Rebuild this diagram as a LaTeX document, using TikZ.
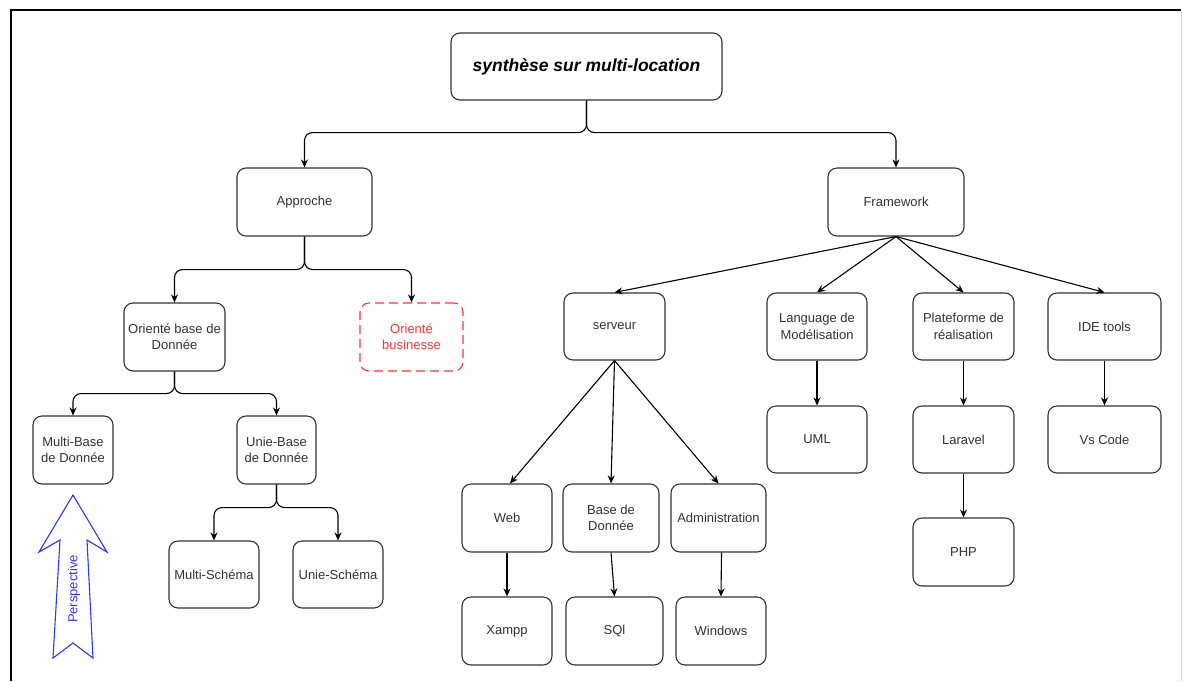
\documentclass[tikz,border=0pt]{standalone}
\usepackage{fontspec}
\setmainfont{Liberation Sans}
\usetikzlibrary{arrows.meta}
\definecolor{edgegray}{HTML}{333333}
\definecolor{redline}{HTML}{FF3333}
\definecolor{blueline}{HTML}{3333FF}
\definecolor{paneledge}{HTML}{D4D4D4}
\begin{document}
\begin{tikzpicture}[x=1pt,y=-1pt,
  box/.style={draw=edgegray, line width=1.1pt, rounded corners=9pt, align=center,
    text=edgegray, inner sep=0pt, font=\fontsize{13}{16.5}\selectfont},
  sz/.style 2 args={minimum width=#1pt, minimum height=#2pt},
  dashbox/.style={box, draw=redline, text=redline, dash pattern=on 9pt off 5pt},
  link/.style={draw=black, line width=1.1pt, -{Stealth[length=8pt,width=7pt]}},
  elbow/.style={link, rounded corners=8pt}]

\useasboundingbox (0,0) rectangle (1183,681);
\fill[white] (0,0) rectangle (1183,681);

% page frame
\draw[black, line width=1.3pt] (11,681) -- (11,10) -- (1181,10);
\draw[paneledge, line width=1.2pt] (1181.5,11) -- (1181.5,681);

% title
\node[box, sz={271}{67}, font=\fontsize{17.5}{20}\selectfont\bfseries\itshape, text=black]
  (title) at (586.5,66.5) {synthèse sur multi-location};

% first level
\node[box, sz={135}{68}] (app) at (304.5,202) {Approche};
\node[box, sz={136}{68}] (fw) at (896,202) {Framework};

% approach branch
\node[box, sz={101}{68}] (obd) at (174.5,337) {Orienté base de\\Donnée};
\node[dashbox, sz={103}{68}] (obus) at (411.5,337) {Orienté\\businesse};
\node[box, sz={80}{68}] (mbd) at (73,450) {Multi-Base\\de Donnée};
\node[box, sz={79}{68}] (ubd) at (276.5,450) {Unie-Base\\de Donnée};
\node[box, sz={90}{67}] (msch) at (214,574.5) {Multi-Schéma};
\node[box, sz={90}{67}] (usch) at (338,574.5) {Unie-Schéma};

% framework branch
\node[box, sz={101}{67}] (srv) at (614.5,326.5) {serveur};
\node[box, sz={100}{67}] (lang) at (817,326.5) {Language de\\Modélisation};
\node[box, sz={101}{67}] (plat) at (963.5,326.5) {Plateforme de\\réalisation};
\node[box, sz={113}{67}] (ide) at (1104.5,326.5) {IDE tools};
\node[box, sz={100}{67}] (uml) at (817,439.5) {UML};
\node[box, sz={101}{67}] (lar) at (963.5,439.5) {Laravel};
\node[box, sz={113}{67}] (vsc) at (1104.5,439.5) {Vs Code};
\node[box, sz={101}{68}] (php) at (963.5,552) {PHP};

% server branch
\node[box, sz={90}{68}] (web) at (507,518) {Web};
\node[box, sz={96}{68}] (bdd) at (611,518) {Base de\\Donnée};
\node[box, sz={95}{68}] (adm) at (718.5,518) {Administration};
\node[box, sz={90}{68}] (xam) at (507,631) {Xampp};
\node[box, sz={97}{68}] (sql) at (614.5,631) {SQl};
\node[box, sz={90}{68}] (win) at (721,631) {Windows};

% elbow connectors
\draw[elbow] (title.south) -- ++(0,32) -| (app.north);
\draw[elbow] (title.south) -- ++(0,32) -| (fw.north);
\draw[elbow] (app.south) -- ++(0,33) -| (obd.north);
\draw[elbow] (app.south) -- ++(0,33) -| (obus.north);
\draw[elbow] (obd.south) -- ++(0,22) -| (mbd.north);
\draw[elbow] (obd.south) -- ++(0,22) -| (ubd.north);
\draw[elbow] (ubd.south) -- ++(0,23) -| (msch.north);
\draw[elbow] (ubd.south) -- ++(0,23) -| (usch.north);

% straight connectors
\draw[link] (fw.south) -- (srv.north);
\draw[link] (fw.south) -- (lang.north);
\draw[link] (fw.south) -- (plat.north);
\draw[link] (fw.south) -- (ide.north);
\draw[link] (srv.south) -- ([xshift=3pt]web.north);
\draw[link] (srv.south) -- (bdd.north);
\draw[link] (srv.south) -- (adm.north);
\draw[link] (lang) -- (uml);
\draw[link] (plat) -- (lar);
\draw[link] (lar) -- (php);
\draw[link] (ide) -- (vsc);
\draw[link] (web) -- (xam);
\draw[link] (bdd.south) -- (sql.north);
\draw[link] ([xshift=3pt]adm.south) -- (win.north);

% outlined upward arrow with its label
\draw[blueline, line width=1.1pt, line join=miter]
  (73,495) -- (107,552) -- (87,540) -- (93,658) -- (73,643)
  -- (53,658) -- (60,540) -- (39,552) -- cycle;
\node[rotate=90, text=blueline, font=\fontsize{13}{15}\selectfont, inner sep=0pt]
  (persp) at (74,589) {Perspective};
\end{tikzpicture}
\end{document}
